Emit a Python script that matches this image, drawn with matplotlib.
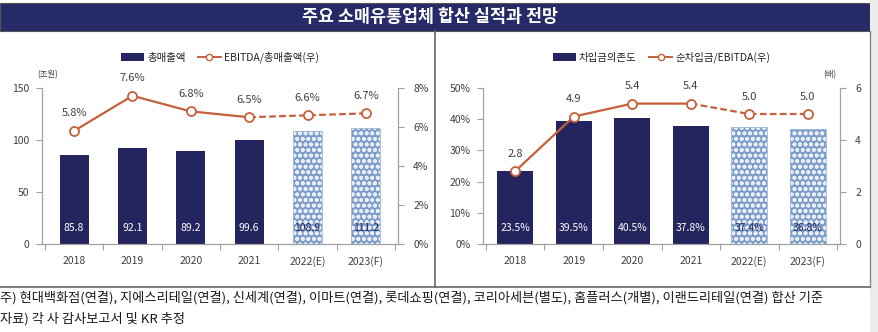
import matplotlib
matplotlib.use("Agg")
import matplotlib.pyplot as plt
from matplotlib.patches import Rectangle, Patch
from matplotlib.lines import Line2D
import numpy as np

plt.rcParams['font.family'] = ['Noto Sans CJK KR', 'DejaVu Sans']
plt.rcParams['hatch.linewidth'] = 1.2

years = ['2018', '2019', '2020', '2021', '2022(E)', '2023(F)']
sales = [85.8, 92.1, 89.2, 99.6, 108.9, 111.2]
ebitda_margin = [5.8, 7.6, 6.8, 6.5, 6.6, 6.7]
debt_ratio = [23.5, 39.5, 40.5, 37.8, 37.4, 36.8]
netdebt_ebitda = [2.8, 4.9, 5.4, 5.4, 5.0, 5.0]
n_actual = 4

title = '주요 소매유통업체 합산 실적과 전망'
note1 = '주) 현대백화점(연결), 지에스리테일(연결), 신세계(연결), 이마트(연결), 롯데쇼핑(연결), 코리아세븐(별도), 홈플러스(개별), 이랜드리테일(연결) 합산 기준'
note2 = '자료) 각 사 감사보고서 및 KR 추정'

NAVY = '#24245e'
HATCH_FACE = '#7d9dc9'
LINE_C = '#c4603c'
GRAY = '#a0a0a0'
TXT = '#404040'

W, H = 879, 332
fig = plt.figure(figsize=(W / 100, H / 100), dpi=100)

def fx(px):
    return px / W

def fy(py):
    return 1 - py / H

# frame elements
fig.patches.append(Rectangle((fx(0), fy(31)), fx(870), fy(3) - fy(31), transform=fig.transFigure,
                             facecolor='#262a66', edgecolor='#555555', lw=0.8, zorder=0))
fig.text(fx(430), fy(17), title, color='white', fontsize=12.5, fontweight='bold', ha='center', va='center')
fig.patches.append(Rectangle((fx(870), 0), fx(9), 1, transform=fig.transFigure,
                             facecolor='#ececec', edgecolor='none', zorder=0))
fig.lines.append(Line2D([fx(870), fx(870)], [fy(287), fy(31)], transform=fig.transFigure, color='#888888', lw=1))
fig.lines.append(Line2D([fx(435), fx(435)], [fy(287), fy(31)], transform=fig.transFigure, color='#666666', lw=1.2))
fig.lines.append(Line2D([0, fx(870)], [fy(287), fy(287)], transform=fig.transFigure, color='#666666', lw=1.2))
fig.text(fx(0), fy(298), note1, fontsize=9.5, color='#1a1a1a', ha='left', va='center', fontweight='medium')
fig.text(fx(0), fy(319), note2, fontsize=9.5, color='#1a1a1a', ha='left', va='center', fontweight='medium')

x = np.arange(len(years))


def panel(left_px, right_px, bars, line, bar_w, ymax1, yt1, yfmt1, ymax2, yt2, yfmt2,
          barfmt, linefmt, bar_label, line_label, unit_text, unit_x, lpad):
    ax = fig.add_axes([fx(left_px), fy(244), fx(right_px - left_px), fy(88) - fy(244)])
    ax2 = ax.twinx()
    ax.set_zorder(1)
    ax2.set_zorder(2)
    ax.patch.set_visible(False)
    for i, v in enumerate(bars):
        if i < n_actual:
            ax.bar(x[i], v, width=bar_w, color=NAVY, edgecolor='none', zorder=2)
        else:
            ax.bar(x[i], v, width=bar_w, color=HATCH_FACE, edgecolor='#e8eef8', hatch='ooo',
                   linewidth=0, zorder=2)
            ax.bar(x[i], v, width=bar_w, fill=False, edgecolor='#9fb8d8', linewidth=0.6, zorder=3)
        ax.text(x[i], ymax1 * 0.1, barfmt.format(v), ha='center', va='center', fontsize=7.5,
                color='white' if i < n_actual else NAVY, zorder=4)
    ax.set_xlim(-0.55, len(years) - 0.45)
    ax.set_ylim(0, ymax1)
    ax.set_yticks(yt1)
    ax.set_yticklabels([yfmt1.format(t) for t in yt1])
    ax.set_xticks(x)
    ax.set_xticklabels(years)
    ax.set_xticks(np.arange(-0.5, len(years), 1.0), minor=True)
    ax.tick_params(axis='x', which='major', length=0, pad=9, labelsize=7.5, labelcolor=TXT)
    ax.tick_params(axis='x', which='minor', length=4, color=GRAY, width=0.8)
    ax.tick_params(axis='y', length=4, color=GRAY, width=0.8, labelsize=7.5, labelcolor=TXT, pad=lpad)

    ax2.plot(x[:n_actual], line[:n_actual], color=LINE_C, lw=1.6, zorder=3)
    ax2.plot(x[n_actual - 1:], line[n_actual - 1:], color=LINE_C, lw=1.6, ls=(0, (3, 1.5)), zorder=3)
    ax2.plot(x, line, ls='none', marker='o', ms=6.5, mfc='white', mec=LINE_C, mew=1.3, zorder=4)
    ax2.set_ylim(0, ymax2)
    ax2.set_yticks(yt2)
    ax2.set_yticklabels([yfmt2.format(t) for t in yt2])
    ax2.tick_params(axis='y', length=4, color=GRAY, width=0.8, labelsize=7.5, labelcolor=TXT, pad=7)
    for i, v in enumerate(line):
        ax2.annotate(linefmt.format(v), (x[i], v), xytext=(0, 9), textcoords='offset points',
                     ha='center', va='bottom', fontsize=8, color=TXT)

    for a in (ax, ax2):
        a.spines['top'].set_visible(False)
        for s in ('left', 'right', 'bottom'):
            a.spines[s].set_color(GRAY)
            a.spines[s].set_linewidth(0.8)

    handles = [Patch(facecolor=NAVY, edgecolor='none'),
               Line2D([], [], color=LINE_C, lw=1.4, marker='o', ms=4.5, mfc='white', mec=LINE_C)]
    ax2.legend(handles, [bar_label, line_label], loc='lower center', bbox_to_anchor=(0.5, 1.1),
               ncol=2, frameon=False, fontsize=7.5, handlelength=2.2, handleheight=0.9,
               columnspacing=1.2, handletextpad=0.3, labelcolor='#222222')
    fig.text(fx(unit_x), fy(75), unit_text, fontsize=6, color=TXT, ha='center', va='center')
    return ax, ax2


panel(42, 398, sales, ebitda_margin, 0.5, 150, [0, 50, 100, 150], '{:.0f}',
      8, [0, 2, 4, 6, 8], '{:.0f}%', '{:.1f}', '{:.1f}%',
      '총매출액', 'EBITDA/총매출액(우)', '(조원)', 48, 5)
panel(483, 840, debt_ratio, netdebt_ebitda, 0.62, 50, [0, 10, 20, 30, 40, 50], '{:.0f}%',
      6, [0, 2, 4, 6], '{:.0f}', '{:.1f}%', '{:.1f}',
      '차입금의존도', '순차입금/EBITDA(우)', '(배)', 830, 5)

fig.savefig('out.png', dpi=100)
